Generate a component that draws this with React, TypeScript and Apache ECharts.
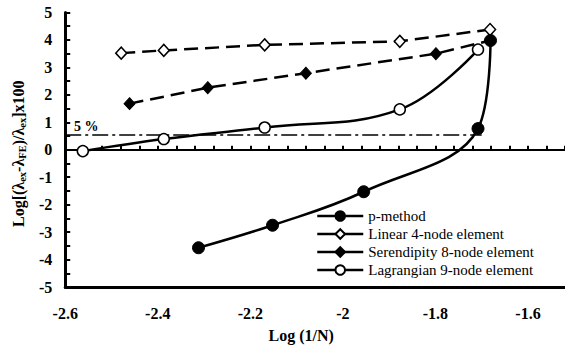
import React, { useEffect, useRef } from 'react';
import * as echarts from 'echarts';

const pMethodX = [-2.312, -2.152, -1.955, -1.708, -1.681];
const pMethodY = [-3.57, -2.75, -1.53, 0.77, 3.98];
const linearX = [-2.479, -2.387, -2.169, -1.877, -1.682];
const linearY = [3.52, 3.62, 3.82, 3.95, 4.38];
const serendX = [-2.461, -2.292, -2.08, -1.799, -1.682];
const serendY = [1.68, 2.26, 2.79, 3.5, 3.98];
const lagrX = [-2.562, -2.387, -2.169, -1.877, -1.708];
const lagrY = [-0.05, 0.39, 0.81, 1.47, 3.65];
const fivePctX = [-2.6, -1.7];
const fivePctY = [0.54, 0.54];

const names = ['p-method', 'Linear 4-node element', 'Serendipity 8-node element', 'Lagrangian 9-node element'];

const FONT = 'Liberation Serif, serif';

const zip = (xs: number[], ys: number[]) => xs.map((x, i) => [x, ys[i]]);

export default function App() {
  const ref = useRef<HTMLDivElement>(null);
  useEffect(() => {
    if (!ref.current) return;
    const chart = echarts.init(ref.current, undefined, { renderer: 'svg' });
    const axisLabel = { fontFamily: FONT, fontWeight: 'bold', fontSize: 16, color: '#000' };
    chart.setOption({
      animation: false,
      backgroundColor: '#fff',
      textStyle: { fontFamily: FONT },
      grid: { left: 61, top: 12.5, right: 0, bottom: 61 },
      legend: {
        orient: 'vertical',
        left: 310,
        top: 206,
        data: names,
        backgroundColor: '#fff',
        padding: [2, 4, 2, 6],
        itemWidth: 46,
        itemHeight: 12,
        itemGap: 2,
        textStyle: { fontFamily: FONT, fontSize: 15, lineHeight: 16, color: '#000' },
        lineStyle: { type: 'solid', width: 2.5 },
      },
      xAxis: [
        {
          type: 'value', min: -2.6, max: -1.52, interval: 0.2, position: 'bottom',
          axisLine: { show: true, onZero: false, lineStyle: { color: '#000', width: 3 } },
          axisTick: { show: false }, splitLine: { show: false },
          axisLabel: { ...axisLabel, margin: 18, showMaxLabel: false },
          name: 'Log (1/N)', nameLocation: 'middle', nameGap: 40,
          nameTextStyle: { fontFamily: FONT, fontWeight: 'bold', fontSize: 16, color: '#000', padding: [0, 28, 0, 0] },
        },
        {
          type: 'value', min: -2.6, max: -1.52, interval: 0.04, position: 'bottom',
          axisLine: { show: false }, axisLabel: { show: false }, splitLine: { show: false },
          axisTick: { show: true, inside: true, length: 4, lineStyle: { color: '#000', width: 2 } },
        },
        {
          type: 'value', min: -2.6, max: -1.52, position: 'top',
          axisLine: { show: true, lineStyle: { color: '#000', width: 2 } },
          axisLabel: { show: false }, axisTick: { show: false }, splitLine: { show: false },
        },
      ],
      yAxis: [
        {
          type: 'value', min: -5, max: 5, interval: 1, position: 'left',
          axisLine: { show: true, onZero: false, lineStyle: { color: '#000', width: 3 } },
          axisTick: { show: false }, splitLine: { show: false },
          axisLabel: { ...axisLabel, margin: 13 },
          name: '{m|Log[(λ}{s|ex}{m|-λ}{s|FE}{m|)/λ}{s|ex}{m|]x100}',
          nameLocation: 'middle', nameGap: 34,
          nameTextStyle: {
            padding: [0, 8, 0, 0],
            rich: {
              m: { fontFamily: FONT, fontWeight: 'bold', fontSize: 16, color: '#000', lineHeight: 18 },
              s: { fontFamily: FONT, fontWeight: 'bold', fontSize: 10.5, color: '#000', lineHeight: 12, padding: [9, 0, 0, 0] },
            },
          },
        },
        {
          type: 'value', min: -5, max: 5, interval: 0.5, position: 'left',
          axisLine: { show: false }, axisLabel: { show: false }, splitLine: { show: false },
          axisTick: { show: true, inside: true, length: 5, lineStyle: { color: '#000', width: 2 } },
        },
      ],
      series: [
        {
          name: '5%', type: 'line', z: 1,
          data: zip(fivePctX, fivePctY).map((d, i) => i === 0 ? {
            value: d,
            label: { show: true, formatter: '5 %', position: 'top', offset: [21, 4], fontFamily: FONT, fontWeight: 'bold', fontSize: 14, color: '#000' },
          } : { value: d }),
          symbol: 'circle', symbolSize: 0,
          lineStyle: { color: '#000', width: 1.5, type: [16, 4, 3, 4] },
          silent: true,
        },
        {
          name: names[1], type: 'line', z: 3,
          data: zip(linearX, linearY),
          symbol: 'diamond', symbolSize: [11, 12],
          itemStyle: { color: '#fff', borderColor: '#000', borderWidth: 1.5 },
          lineStyle: { color: '#000', width: 2.5, type: [14, 7] },
        },
        {
          name: names[2], type: 'line', z: 3,
          data: zip(serendX, serendY),
          symbol: 'diamond', symbolSize: [11, 12],
          itemStyle: { color: '#000', borderColor: '#000', borderWidth: 1 },
          lineStyle: { color: '#000', width: 2.5, type: [14, 7] },
        },
        {
          name: names[3], type: 'line', z: 3, smooth: 0.4,
          data: zip(lagrX, lagrY),
          symbol: 'circle', symbolSize: 11,
          itemStyle: { color: '#fff', borderColor: '#000', borderWidth: 1.5 },
          lineStyle: { color: '#000', width: 2.5 },
        },
        {
          name: names[0], type: 'line', z: 4, smooth: 0.4,
          data: zip(pMethodX, pMethodY),
          symbol: 'circle', symbolSize: 12,
          itemStyle: { color: '#000', borderColor: '#000', borderWidth: 1 },
          lineStyle: { color: '#000', width: 2.5 },
        },
      ],
    });
    return () => chart.dispose();
  }, []);
  return <div ref={ref} style={{ width: 565, height: 348, position: 'absolute', left: 0, top: 0 }} />;
}
